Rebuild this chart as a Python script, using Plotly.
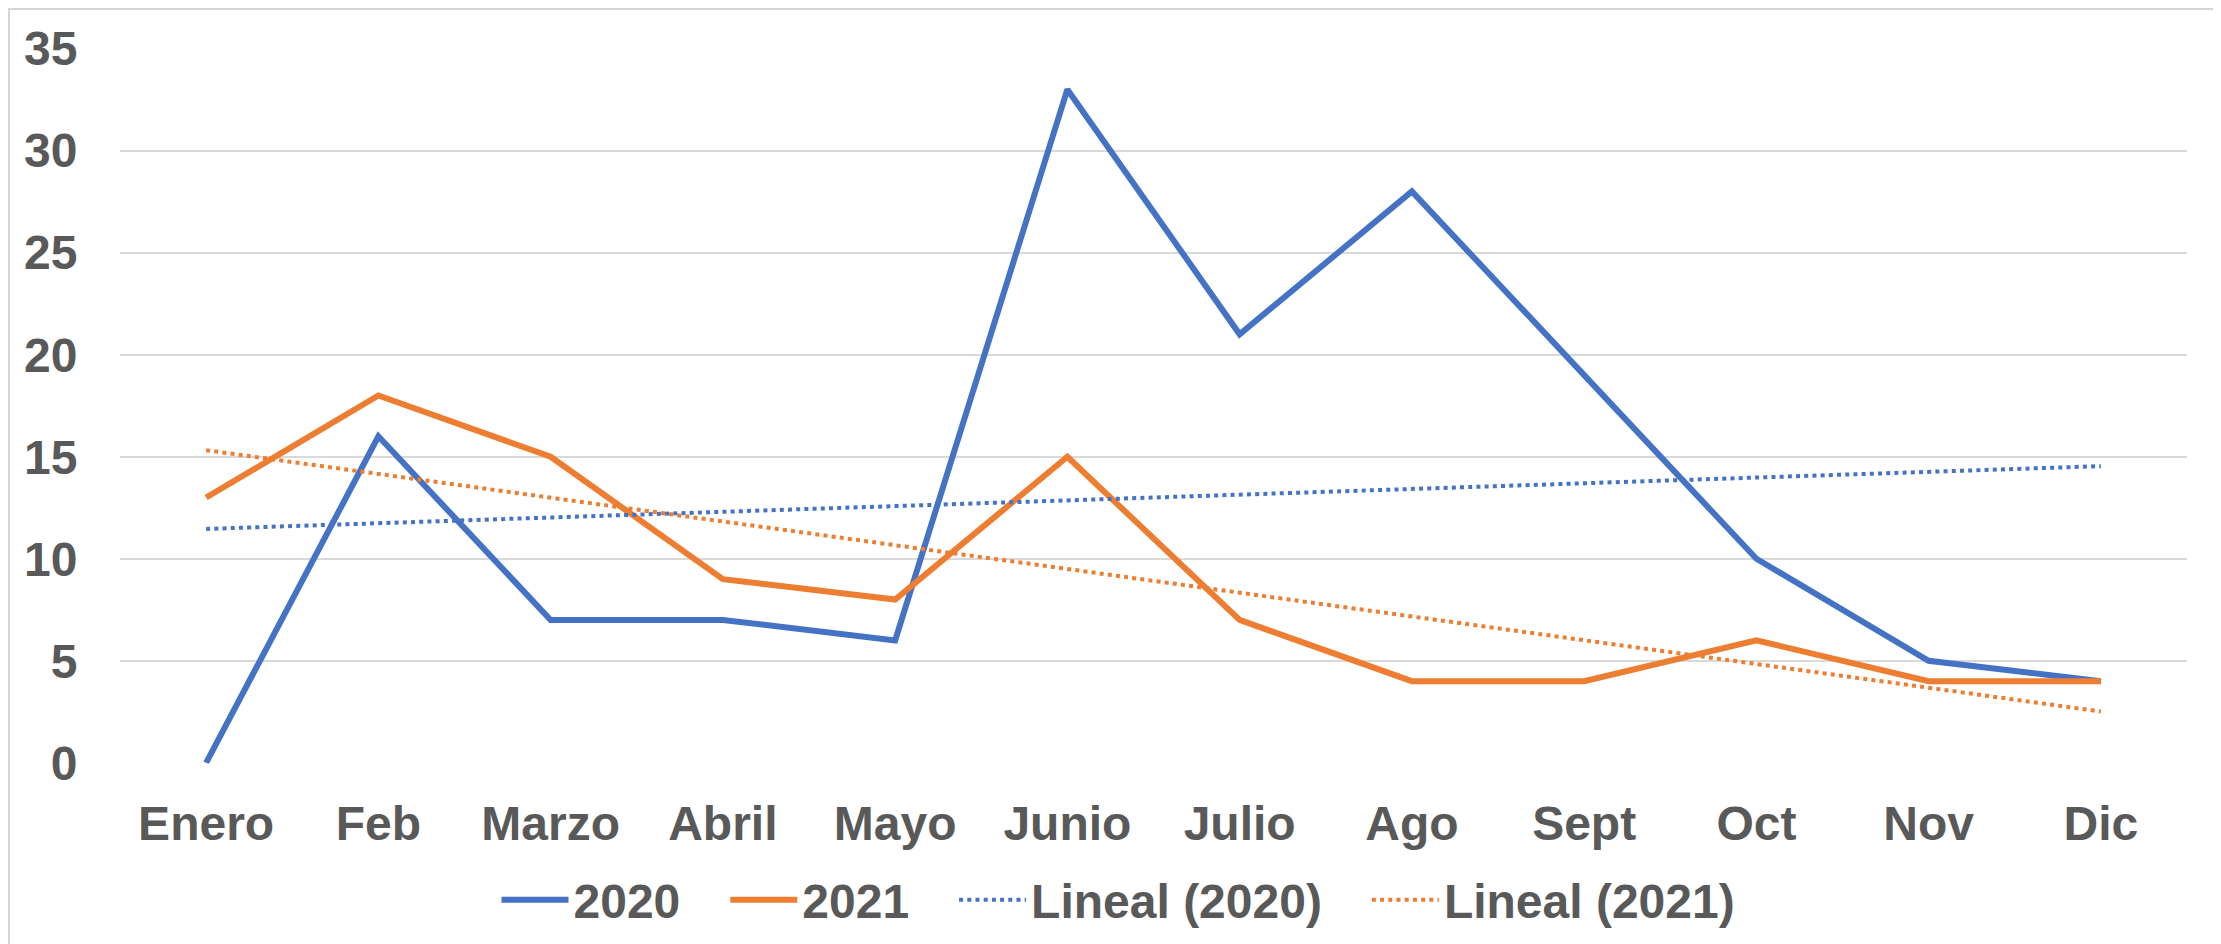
import numpy as np
import plotly.graph_objects as go

meses = ['Enero', 'Feb', 'Marzo', 'Abril', 'Mayo', 'Junio',
         'Julio', 'Ago', 'Sept', 'Oct', 'Nov', 'Dic']
valores_2020 = [0, 16, 7, 7, 6, 33, 21, 28, 19, 10, 5, 4]
valores_2021 = [13, 18, 15, 9, 8, 15, 7, 4, 4, 6, 4, 4]
y_ticks = [0, 5, 10, 15, 20, 25, 30, 35]

W, H = 2221, 944
# margenes del area de trazado (la pagina ya desplaza 8px)
ML, MR, MT, MB = 112, 42, 40, 187
PW, PH = W - ML - MR, H - MT - MB
azul = '#4472C4'
naranja = '#ED7D31'
gris_txt = '#595959'
fuente = 'Arial, Liberation Sans, sans-serif'
esp = '\u00a0' * 3   # separacion extra entre entradas de la leyenda


def tendencia(vals):
    # linea de tendencia lineal como en Excel
    idx = np.arange(1, len(vals) + 1)
    m, b = np.polyfit(idx, vals, 1)
    return m * idx + b


fig = go.Figure()
fig.add_trace(go.Scatter(x=meses, y=valores_2020, name='2020' + esp, mode='lines',
                         line=dict(color=azul, width=6)))
fig.add_trace(go.Scatter(x=meses, y=valores_2021, name='2021' + esp, mode='lines',
                         line=dict(color=naranja, width=6)))
fig.add_trace(go.Scatter(x=meses, y=tendencia(valores_2020), name='Lineal (2020)' + esp,
                         mode='lines', line=dict(color=azul, width=4, dash='4px,4.2px')))
fig.add_trace(go.Scatter(x=meses, y=tendencia(valores_2021), name='Lineal (2021)',
                         mode='lines', line=dict(color=naranja, width=4, dash='4px,4.2px')))

fig.update_layout(
    width=W, height=H,
    margin=dict(l=ML, r=MR, t=MT, b=MB),
    paper_bgcolor='#EEF2FB',
    plot_bgcolor='rgba(0,0,0,0)',
    font=dict(family=fuente, size=48, color=gris_txt, weight=700),
    showlegend=True,
    legend=dict(orientation='h', xref='container', yref='container',
                x=0.5, xanchor='center', y=1 - 892 / H, yanchor='middle',
                itemwidth=67, font=dict(size=48, color=gris_txt, weight=700),
                bgcolor='rgba(0,0,0,0)'),
    shapes=[dict(type='rect', xref='paper', yref='paper', layer='below',
                 x0=(1 - ML) / PW, x1=(2208 - ML) / PW,
                 y0=-(MB + 20) / PH, y1=1 + (MT - 1) / PH,
                 fillcolor='white', line=dict(color='#D4D4D4', width=2))],
)
fig.update_xaxes(type='category', range=[-0.5, 11.5], showgrid=False,
                 showline=False, zeroline=False, ticks='outside', ticklen=18,
                 tickcolor='rgba(0,0,0,0)', tickfont=dict(size=48, weight=700))
fig.update_yaxes(range=[-0.03, 35.03], tickvals=y_ticks, showgrid=True,
                 gridcolor='#D9D9D9', gridwidth=2, zeroline=False, showline=False,
                 ticks='outside', ticklen=32, tickcolor='rgba(0,0,0,0)',
                 tickfont=dict(size=48, weight=700))

fig.write_html('out.html')
